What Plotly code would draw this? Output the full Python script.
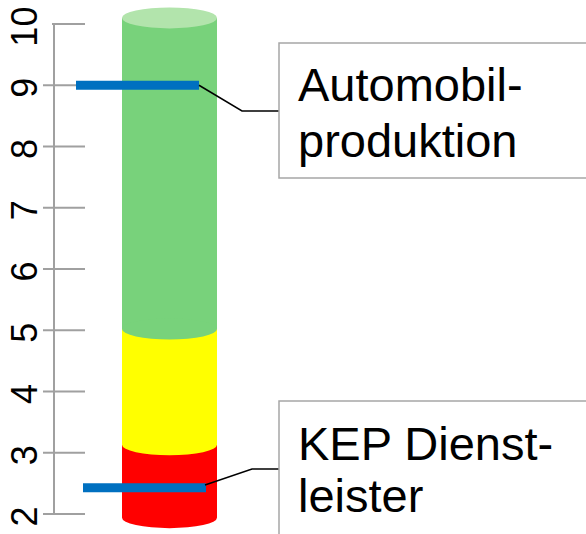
import plotly.graph_objects as go

# ---- data ----
tick_values = [2, 3, 4, 5, 6, 7, 8, 9, 10]
tick_labels = ["2", "3", "4", "5", "6", "7", "8", "9", "10"]
segment_names = ["rot", "gelb", "grün"]
segment_base = 1.94
segment_tops = [3.13, 5.02, 10.10]
segment_colors = ["#FF0000", "#FFFF00", "#78D27B"]
top_cap_color = "#B2E4AC"
marker_labels = ["Automobil-<br>produktion", "KEP Dienst-<br>leister"]
marker_values = [9.0, 2.43]

# ---- layout constants (pixel-like x units, y in value units) ----
W, H = 586, 534
PX_PER_UNIT = 61.25
Y_AT_2 = 514
ymin = 2 - (H - Y_AT_2) / PX_PER_UNIT
ymax = 2 + Y_AT_2 / PX_PER_UNIT
LABEL_SHIFT = 8 / PX_PER_UNIT   # tick labels sit slightly below their ticks


def v(ypx):
    return 2 + (Y_AT_2 - ypx) / PX_PER_UNIT


AXIS_X = 54
CYL_X0, CYL_X1 = 122, 217
ELL_H = 10.5 / PX_PER_UNIT
marker_x = [(76, 199), (83, 206)]
leader_pts = [[(199, 9.0), (242, v(111)), (279, v(111))],
              [(205, v(485)), (252, v(469)), (279, v(469))]]
boxes = [(279, v(43), 600, v(178)), (279, v(401), 600, v(545))]
line_centers = [(84, 140), (443, 495)]

shapes = []
# axis line and ticks
shapes.append(dict(type="line", xref="x", yref="y", x0=AXIS_X, x1=AXIS_X,
                   y0=tick_values[0], y1=tick_values[-1],
                   line=dict(color="#A0A0A0", width=2)))
for t in tick_values:
    shapes.append(dict(type="line", xref="x", yref="y",
                       x0=(AXIS_X - 2 if t == tick_values[-1] else 43), x1=85,
                       y0=t, y1=t, line=dict(color="#A0A0A0", width=2)))

# cylinder
bottom = segment_base
for top, col in zip(segment_tops, segment_colors):
    shapes.append(dict(type="rect", xref="x", yref="y", x0=CYL_X0, x1=CYL_X1,
                       y0=bottom, y1=top, fillcolor=col, line=dict(width=0)))
    shapes.append(dict(type="circle", xref="x", yref="y", x0=CYL_X0, x1=CYL_X1,
                       y0=bottom - ELL_H, y1=bottom + ELL_H, fillcolor=col,
                       line=dict(width=0)))
    bottom = top
shapes.append(dict(type="circle", xref="x", yref="y", x0=CYL_X0, x1=CYL_X1,
                   y0=segment_tops[-1] - ELL_H, y1=segment_tops[-1] + ELL_H,
                   fillcolor=top_cap_color, line=dict(width=0)))

# markers
for (mx0, mx1), mv in zip(marker_x, marker_values):
    shapes.append(dict(type="line", xref="x", yref="y", x0=mx0, x1=mx1,
                       y0=mv, y1=mv, line=dict(color="#0070C0", width=9)))

# leader lines
for pts in leader_pts:
    path = "M " + " L ".join(f"{x},{y}" for x, y in pts)
    shapes.append(dict(type="path", xref="x", yref="y", path=path,
                       line=dict(color="#000000", width=1.5)))

# boxes
for bx0, by0, bx1, by1 in boxes:
    shapes.append(dict(type="rect", xref="x", yref="y", x0=bx0, x1=bx1,
                       y0=by1, y1=by0, fillcolor="#FFFFFF",
                       line=dict(color="#A6A6A6", width=1.5)))

annotations = []
for label, (c1, c2) in zip(marker_labels, line_centers):
    l1, l2 = label.split("<br>")
    for txt, c in ((l1, c1), (l2, c2)):
        annotations.append(dict(x=296, y=v(c), xref="x", yref="y", text=txt,
                                showarrow=False, xanchor="left",
                                yanchor="middle",
                                font=dict(family="Liberation Sans, Arial",
                                          size=47, color="#000000")))

fig = go.Figure()
fig.add_trace(go.Scatter(x=[0], y=[5], mode="markers",
                         marker=dict(opacity=0), showlegend=False,
                         hoverinfo="skip"))
fig.add_trace(go.Scatter(x=[0], y=[5], mode="markers", yaxis="y2",
                         marker=dict(opacity=0), showlegend=False,
                         hoverinfo="skip"))
fig.update_layout(
    width=W, height=H,
    margin=dict(l=0, r=0, t=0, b=0),
    paper_bgcolor="#FFFFFF", plot_bgcolor="#FFFFFF",
    showlegend=False,
    shapes=shapes,
    annotations=annotations,
    xaxis=dict(range=[0, W], domain=[0, 1], visible=False, fixedrange=True),
    yaxis=dict(range=[ymin, ymax], domain=[0, 1], visible=False,
               fixedrange=True),
    yaxis2=dict(range=[ymin + LABEL_SHIFT, ymax + LABEL_SHIFT],
                domain=[0, 1], overlaying="y", anchor="free",
                position=AXIS_X / W, side="left", showgrid=False,
                zeroline=False, showline=False, ticks="", tickmode="array",
                tickvals=tick_values, ticktext=tick_labels, tickangle=-90,
                ticklabelstandoff=10, automargin=False,
                ticklabeloverflow="allow", fixedrange=True,
                tickfont=dict(family="Liberation Sans, Arial", size=36,
                              color="#000000")),
)
fig.write_html("out.html",
               config={"displayModeBar": False, "staticPlot": True},
               post_script="document.body.style.margin='0px';"
                           "document.body.style.overflow='hidden';")
